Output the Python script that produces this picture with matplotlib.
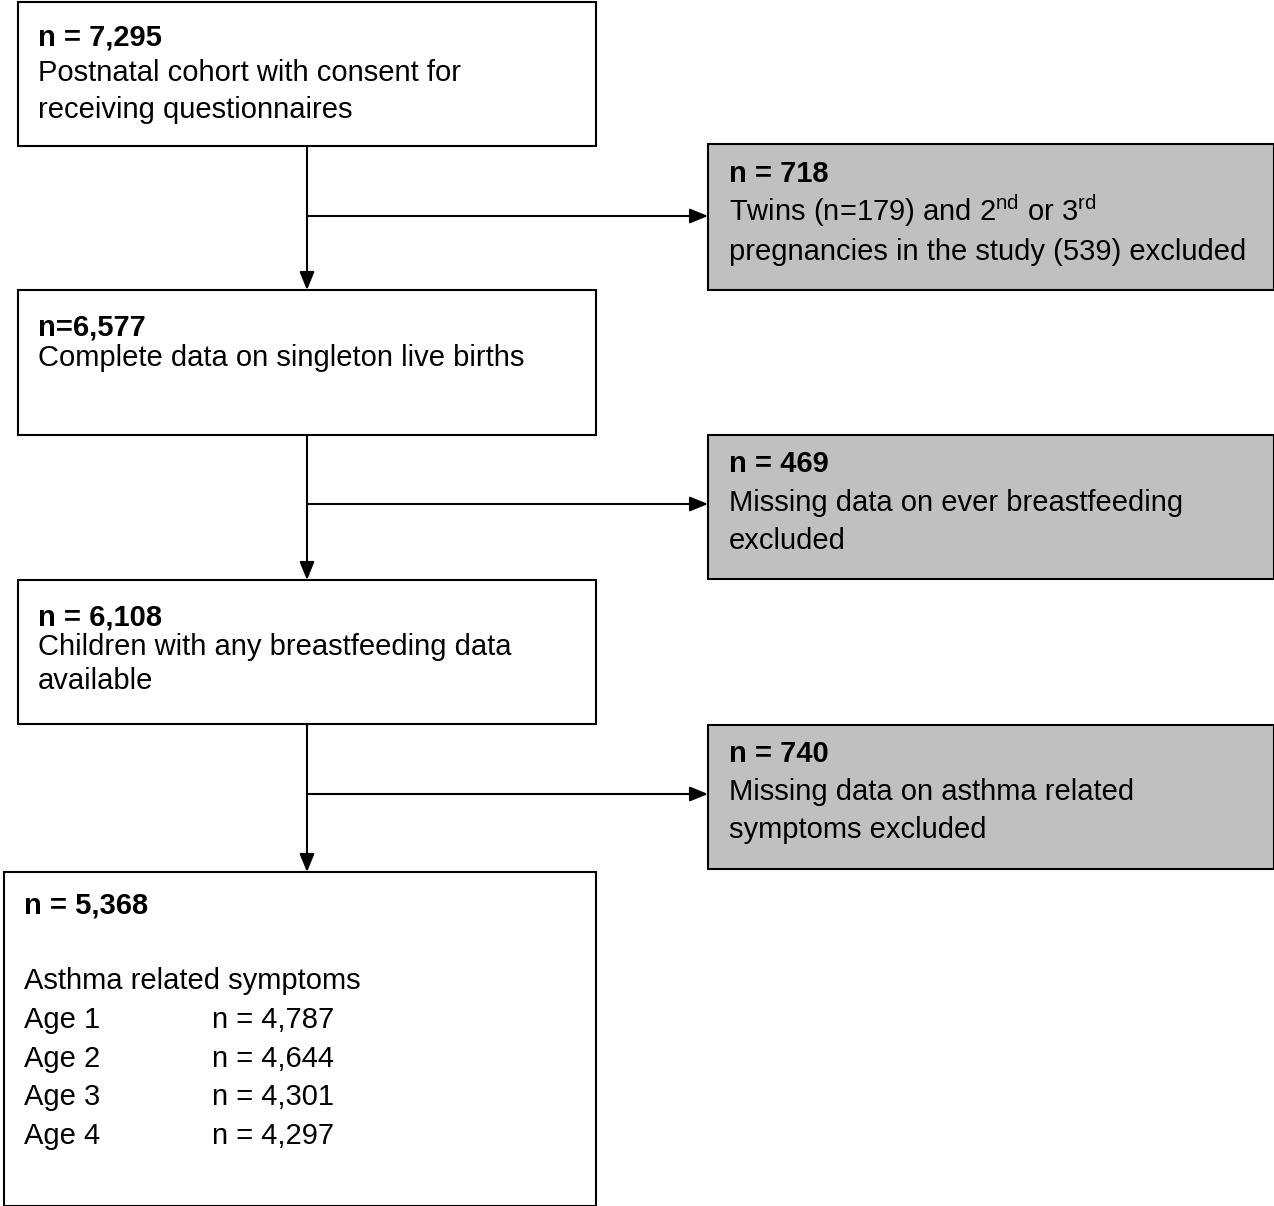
import matplotlib
matplotlib.use("Agg")
import matplotlib.pyplot as plt
from matplotlib.patches import Rectangle

plt.rcParams['font.family'] = ['Liberation Sans', 'DejaVu Sans']
plt.rcParams['mathtext.fontset'] = 'custom'
plt.rcParams['mathtext.rm'] = 'Liberation Sans'

main_counts = ["n = 7,295", "n=6,577", "n = 6,108", "n = 5,368"]
main_texts = [["Postnatal cohort with consent for", "receiving questionnaires"],
              ["Complete data on singleton live births"],
              ["Children with any breastfeeding data", "available"]]
excl_counts = ["n = 718", "n = 469", "n = 740"]
excl_texts = [["Twins (n=179) and 2$^{\\mathrm{nd}}$ or 3$^{\\mathrm{rd}}$",
               "pregnancies in the study (539) excluded"],
              ["Missing data on ever breastfeeding", "excluded"],
              ["Missing data on asthma related", "symptoms excluded"]]
ages = ["Age 1", "Age 2", "Age 3", "Age 4"]
age_n = ["n = 4,787", "n = 4,644", "n = 4,301", "n = 4,297"]

fig = plt.figure(figsize=(12.74, 12.06), dpi=100)
ax = fig.add_axes([0, 0, 1, 1])
ax.set_xlim(0, 1274); ax.set_ylim(1206, 0); ax.axis('off')
FS = 21
OFF = 9  # center -> baseline

def txt(x, y, s, bold=False):
    ax.text(x, y + OFF, s, fontsize=FS, fontweight='bold' if bold else 'normal', va='baseline')

def box(x0, y0, x1, y1, fc):
    ax.add_patch(Rectangle((x0, y0), x1 - x0, y1 - y0, fc=fc, ec='black', lw=1.5))

main_boxes = [(18, 2, 596, 146), (18, 290, 596, 435), (18, 580, 596, 724)]
main_ys = [(36, [72, 109]), (326, [357]), (617, [646, 680])]
for (b, (yb, ys), cnt, lines) in zip(main_boxes, main_ys, main_counts, main_texts):
    box(*b, 'white')
    txt(38, yb, cnt, True)
    for y, t in zip(ys, lines):
        txt(38, y, t)

excl_boxes = [(708, 144, 1274, 290), (708, 435, 1274, 579), (708, 725, 1274, 869)]
excl_ys = [(173, [212, 251]), (463, [502, 540]), (753, [791, 829])]
for (b, (yb, ys), cnt, lines) in zip(excl_boxes, excl_ys, excl_counts, excl_texts):
    box(*b, '#c0c0c0')
    txt(729, yb, cnt, True)
    for y, t in zip(ys, lines):
        txt(729, y, t)

box(4, 872, 596, 1206, 'white')
txt(24, 904, main_counts[3], True)
txt(24, 980, "Asthma related symptoms")
for i, (a, n) in enumerate(zip(ages, age_n)):
    y = 1019 + i * 38.7
    txt(24, y, a)
    txt(212, y, n)

arr = dict(arrowstyle='-|>,head_length=1.1,head_width=0.45', color='black', lw=1.5, shrinkA=0, shrinkB=0)
for (ytop, ybot, yh) in [(146, 290, 216), (435, 580, 504), (724, 872, 794)]:
    ax.annotate('', xy=(307, ybot), xytext=(307, ytop), arrowprops=arr)
    ax.annotate('', xy=(708, yh), xytext=(307, yh), arrowprops=arr)

fig.savefig('out.png', dpi=100)
